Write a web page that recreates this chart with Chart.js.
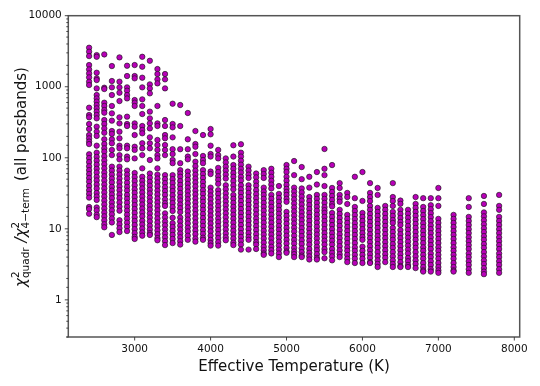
<!DOCTYPE html>
<html>
<head>
<meta charset="utf-8">
<title>Chi-square ratio vs effective temperature</title>
<script src="https://cdn.jsdelivr.net/npm/chart.js@4"></script>
<style>
  html, body { margin: 0; padding: 0; background: #fff; }
  canvas { display: block; }
</style>
</head>
<body>
<canvas id="chart" width="540" height="386"></canvas>
<script>
// Ratio values, one list per model temperature
const r2400 = [3540,3110,2700,2020,1754,1541,1355,1177,1057,507,400,371,299,254,209,188,169,156,112,99,87,76,67,59,52,46,40,35,31,27.5,20.3,19,16.3];
const r2500 = [2790,2640,1575,1312,1242,948,764,685,617,553,497,446,400,359,274,233,203,148,118,103,91,80,70,62,54,48,42,37,32,28.5,25.5,20,18.2,15.8,14.6];
const r2600 = [2850,968,929,596,536,470,431,340,299,259,225,182,156,136,122,105,92,81,71,62,55,48,42,37,32.5,28.5,25,22,19.3,17,15,13.2,11.6,10.5];
const r2700 = [1955,1203,980,764,536,422,333,238,217,182,160,129,109,75,66,58,51,45,39,34.5,30.5,27,23.5,20.7,18.2,16,14,12.3,8.2];
const r2800 = [2590,1177,980,824,629,371,305,233,188,148,136,109,95,75,66,58,51,45,39.5,35,30.5,27,23.5,20.5,18,13.2,11.6,10.2,9];
const r2900 = [1975,1415,980,879,764,685,379,299,280,148,136,104,95,66,58,51,44.5,39,34.5,30,26.5,23.3,20.4,18,15.8,13.9,12.2,10.7,9.3];
const r3000 = [2020,1415,1312,650,596,536,305,274,209,143,129,98,61,53.5,47,41,36,32,28,24.6,21.6,19,16.7,14.6,12.9,11.3,9.9,8.7,7.7,7.2];
const r3100 = [2640,1914,1340,980,664,536,413,280,246,221,160,136,109,71,54,47.5,42,37,32.5,28.5,25,22,19.3,17,15,13,11.5,10.1,8.9,8];
const r3200 = [2320,1080,948,807,446,359,305,259,194,160,136,93,60,52.5,46,40.5,35.5,31.5,27.5,24.2,21.2,18.7,16.4,14.4,12.7,11.1,9.8,8.7,8.2];
const r3300 = [1775,1510,1270,1115,536,305,280,178,151,129,109,98,71,58,51,45,39.5,34.5,30.5,26.7,23.5,20.7,18.2,16,14,12.3,10.8,9.5,8.4,7.4,6.9];
const r3400 = [1510,1270,948,340,280,209,188,151,129,109,57,50,44,38.5,34,30,26,23,21,16.5,14.5,12.7,11.2,9.8,8.6,7.6,6.7,5.9];
const r3500 = [577,299,268,194,132,113,93,84,57,50,44,38.5,34,29.7,26,23,20.2,17.8,14.3,12,10.6,9.3,8.2,7.2,6.3];
const r3600 = [553,280,132,84,67,60,54,47,41.5,36.5,32,28,25,22,19.5,17.2,14.4,12.7,11.1,9.8,8.6,7.6,6.7,6];
const r3700 = [427,182,132,104,95,64,56,49,43,38,33.5,29.5,26,22.8,20,17.6,15.4,13.5,11.9,10.4,9.2,8,7];
const r3800 = [238,156,143,113,88,76,66,58,51,45,39.5,34.5,30.5,26.7,23.5,20.7,18.2,16,14,12.3,10.8,9.5,8.4,7.3,6.6];
const r3900 = [209,106,93,84,67,59,52,45.5,40,35,31,27,24,21,18.5,16.2,14.2,12.5,11,9.6,8.5,7.5,7];
const r4000 = [254,214,148,113,104,64,59,38,33.5,29.5,26,22.8,20,17.6,15.4,13.5,11.9,10.4,9.2,8,7,6.3,5.8];
const r4100 = [129,109,98,72,63,55,49,43,35,31,27,23.7,20.8,18.3,16,14,12.4,10.9,9.6,8.4,7.4,6.5,5.8];
const r4200 = [98,86,75,66,58,51,41,36,31.5,27.7,24.3,21.4,18.8,16.5,14.5,12.7,11.2,9.8,8.6,7.6,6.9];
const r4300 = [150,104,79,70,61,54,47,41,36,30,26.5,23.2,20.4,18,15.8,13.9,12.2,10.7,9.4,8.3,7.3,6.4,5.9];
const r4400 = [155,118,104,91,80,70,62,54,48,41,36,32,28,24.6,21.6,19,16.7,14.7,12.9,11.3,9.9,8.7,7.7,6.8,6,5.1];
const r4500 = [75,66,58,52,41,36.5,32,28,24.7,21.7,19,16.7,14.7,12.9,11.3,9.9,8.7,7.7,7,5.1];
const r4600 = [60,53,46,40.5,35,30.7,27,23.7,20.8,18.3,16,14,12.4,10.9,9.6,8.4,7.4,6.5,6,5.2];
const r4700 = [67,59,52,38,33.5,30,26.5,23.2,20.4,18,15.8,13.9,12.2,10.7,9.4,8.3,7.3,6.4,5.6,5,4.5,4.3];
const r4800 = [70,61.5,54,47.5,42,37,30,26.5,23.2,20.4,18,15.8,13.9,12.2,10.7,9.4,8.3,7.3,6.4,5.6,5,4.5];
const r4900 = [40,31,27.2,24,21,18.5,16.3,14.3,12.6,11,9.7,8.5,7.5,6.6,5.8,5.1,4.5,4];
const r5000 = [79,70,63,54,47.5,41.5,36.5,33,30,26.5,24,17.3,15.2,13.4,11.8,10.3,9.1,8,7,6.2,5.4,4.8,4.6];
const r5100 = [90,57,38,33.5,29.5,26,22.8,20,17.6,15.4,13.5,11.9,10.4,9.2,8,7,6.2,5.4,4.8,4.4,4];
const r5200 = [74,50,37,32.5,28.5,25,22,19.3,17,15,13.2,11.6,10.2,9,7.9,6.9,6.1,5.3,4.7,4.2,4];
const r5300 = [54,38,28,24.6,21.6,19,16.7,14.7,12.9,11.3,9.9,8.7,7.7,6.8,6,5.2,4.6,4.1,3.7];
const r5400 = [63,42,30,26.4,23.2,20.4,18,15.8,13.9,12.2,10.7,9.4,8.3,7.3,6.4,5.6,5,4.4,3.9,3.7];
const r5500 = [133,70,57,40,30,26.4,23.2,20.2,18.3,16.7,14.7,12.9,11.3,9.9,8.7,7.7,6.8,6,5.2,4.7,3.85];
const r5600 = [79,37.6,33,29,25.5,22.4,20.7,16.7,14.7,12.9,11.3,9.9,8.7,7.7,6.8,6,5.2,4.6,4.1,3.6];
const r5700 = [44,37.6,30,26.5,24,18.5,16.2,14.2,12.5,11,9.6,8.4,7.4,6.5,5.7,5,4.4,4];
const r5800 = [32,28,22.4,15.7,13.8,12.1,10.6,9.3,8.2,7.2,6.3,5.5,4.9,4.3,3.8,3.4];
const r5900 = [54,27,20.3,17.8,15.6,13.7,12,10.6,9.3,8.2,7.2,6.3,5.5,4.9,4.3,3.8,3.3];
const r6000 = [63,24.7,16.7,14.7,12.9,11.3,9.9,8.7,7.7,7,5.6,4.9,4.3,3.8,3.3];
const r6100 = [44,32,28,24.6,21,18.5,16.2,14.2,12.5,11,9.6,8.4,7.4,6.5,5.7,5,4.4,3.9,3.4,3.3];
const r6200 = [37.6,30,19.7,17.3,15.2,13.3,11.7,10.3,9,7.9,7,6.1,5.4,4.7,4.1,3.6,3.2,2.9];
const r6300 = [21,18.5,16.2,14.2,12.5,11,9.6,8.4,7.4,6.5,5.7,5,4.4,3.9,3.4];
const r6400 = [44,28,24.6,21,17.3,15.2,13.3,12.1,10.3,9,7.9,7,6.1,5.4,4.7,4.1,3.6,3.2,2.9];
const r6500 = [25,22.5,18.5,16.2,14.2,12.5,11.3,9.6,8.4,7.4,6.5,5.7,5,4.4,3.9,3.4,3,2.9];
const r6600 = [18.5,16.3,14.3,12.6,11,9.7,8.5,7.5,6.6,5.8,5.1,4.5,3.9,3.5,3.1,2.9];
const r6700 = [28,22.4,19.7,17.3,15.2,13.3,11.7,10.3,9,7.9,7,6.1,5.4,4.7,4.1,3.6,3.2,2.8];
const r6800 = [27,20.3,17.8,15.6,13.7,12,10.6,9.3,8.2,7.2,6.3,5.5,4.9,4.3,3.8,3.3,2.9,2.6,2.5];
const r6900 = [27,21.5,18.9,16.6,14.6,12.8,11.2,9.9,8.7,7.6,6.7,5.9,5.2,4.5,4,3.5,3.1,2.7,2.5];
const r7000 = [37.6,27,21,13.8,12.1,10.6,9.3,8.2,7.2,6.3,5.5,4.9,4.3,3.8,3.3,2.9,2.6,2.4];
const r7200 = [15.7,13.8,12.1,10.6,9.3,8.2,7.2,6.3,5.5,4.9,4.3,3.8,3.3,2.9,2.6,2.5];
const r7400 = [27,20.3,14.7,12.9,11.3,9.9,8.7,7.6,6.7,5.9,5.2,4.5,4,3.5,3.1,2.7,2.4];
const r7600 = [29,22.4,17,15,13.2,11.6,10.2,9,7.9,7,6.1,5.4,4.7,4.1,3.6,3.2,2.8,2.5,2.3];
const r7800 = [30,21,18.5,14.7,12.9,11.3,9.9,8.7,7.6,6.7,5.9,5.2,4.5,4,3.5,3.1,2.7,2.4];

const temperatures = [2400,2500,2600,2700,2800,2900,3000,3100,3200,3300,3400,3500,3600,3700,3800,3900,4000,4100,4200,4300,4400,4500,4600,4700,4800,4900,5000,5100,5200,5300,5400,5500,5600,5700,5800,5900,6000,6100,6200,6300,6400,6500,6600,6700,6800,6900,7000,7200,7400,7600,7800];
const ratios = [r2400,r2500,r2600,r2700,r2800,r2900,r3000,r3100,r3200,r3300,r3400,r3500,r3600,r3700,r3800,r3900,r4000,r4100,r4200,r4300,r4400,r4500,r4600,r4700,r4800,r4900,r5000,r5100,r5200,r5300,r5400,r5500,r5600,r5700,r5800,r5900,r6000,r6100,r6200,r6300,r6400,r6500,r6600,r6700,r6800,r6900,r7000,r7200,r7400,r7600,r7800];
const xTickValues = [3000,4000,5000,6000,7000,8000];

const points = temperatures.flatMap((t, i) => ratios[i].map((v) => ({ x: t, y: v })));

const FONT = "'DejaVu Sans'";
const INK = "#111";

// frame and tick marks, matplotlib style (long decades, short minors on y)
const framePlugin = {
  id: "frame",
  afterDraw(chart) {
    const { ctx, chartArea: a, scales } = chart;
    ctx.save();
    ctx.strokeStyle = "#555";
    ctx.lineWidth = 1.5;
    ctx.strokeRect(a.left, a.top, a.right - a.left, a.bottom - a.top);
    ctx.strokeStyle = "#333";
    ctx.lineWidth = 0.9;
    ctx.beginPath();
    scales.x.ticks.forEach((t, i) => {
      const x = scales.x.getPixelForTick(i);
      ctx.moveTo(x, a.bottom);
      ctx.lineTo(x, a.bottom + 3.5);
    });
    scales.y.ticks.forEach((t, i) => {
      const y = scales.y.getPixelForTick(i);
      const len = Number.isInteger(Math.log10(t.value)) ? 3.5 : 2;
      ctx.moveTo(a.left, y);
      ctx.lineTo(a.left - len, y);
    });
    ctx.stroke();
    ctx.restore();
  },
};

// y title needs sub/superscripts, so it is laid out piece by piece
const yTitlePlugin = {
  id: "yTitle",
  afterDraw(chart) {
    const ctx = chart.ctx;
    ctx.save();
    ctx.translate(25.5, 287);
    ctx.rotate(-Math.PI / 2);
    ctx.fillStyle = INK;
    ctx.textBaseline = "alphabetic";
    let cursor = 0;
    const big = `15px ${FONT}`;
    const bigItalic = `italic 15px ${FONT}`;
    const small = `10.5px ${FONT}`;
    const put = (text, font, dy) => {
      ctx.font = font;
      ctx.fillText(text, cursor, dy);
      return ctx.measureText(text).width;
    };
    const chi = (sub) => {
      cursor += put("χ", bigItalic, 0);
      const w1 = put("2", small, -6.5);
      const w2 = put(sub, small, 3);
      cursor += Math.max(w1, w2);
    };
    chi("quadr");
    cursor += 5;
    cursor += put("/", bigItalic, 0);
    chi("4−term");
    cursor += 7;
    put("(all passbands)", big, 0);
    ctx.restore();
  },
};

new Chart(document.getElementById("chart"), {
  type: "scatter",
  data: {
    datasets: [{
      data: points,
      backgroundColor: "#b800b8",
      borderColor: "rgba(20,20,20,0.8)",
      borderWidth: 0.8,
      pointRadius: 2.7,
    }],
  },
  options: {
    responsive: false,
    animation: false,
    layout: { padding: { top: 15.7, right: 20.3, left: 0, bottom: 0 } },
    plugins: { legend: { display: false }, tooltip: { enabled: false } },
    scales: {
      x: {
        type: "linear",
        min: 2126,
        max: 8071,
        afterFit: (s) => { s.height = 49; },
        afterBuildTicks: (s) => { s.ticks = xTickValues.map((value) => ({ value })); },
        grid: { display: false, drawTicks: false },
        border: { display: false },
        ticks: {
          padding: 5.5,
          maxRotation: 0,
          color: INK,
          font: { family: FONT, size: 10.5 },
          callback: (v) => String(v),
        },
        title: {
          display: true,
          text: "Effective Temperature (K)",
          color: INK,
          font: { family: FONT, size: 15 },
          padding: { top: 0, bottom: 10 },
        },
      },
      y: {
        type: "logarithmic",
        min: 0.3,
        max: 10000,
        afterFit: (s) => { s.width = 68.3; },
        grid: { display: false, drawTicks: false },
        border: { display: false },
        ticks: {
          padding: 6.5,
          autoSkip: false,
          color: INK,
          font: { family: FONT, size: 10.5 },
          callback: (v) => (Number.isInteger(Math.log10(v)) ? String(v) : ""),
        },
      },
    },
  },
  plugins: [framePlugin, yTitlePlugin],
});
</script>
</body>
</html>
